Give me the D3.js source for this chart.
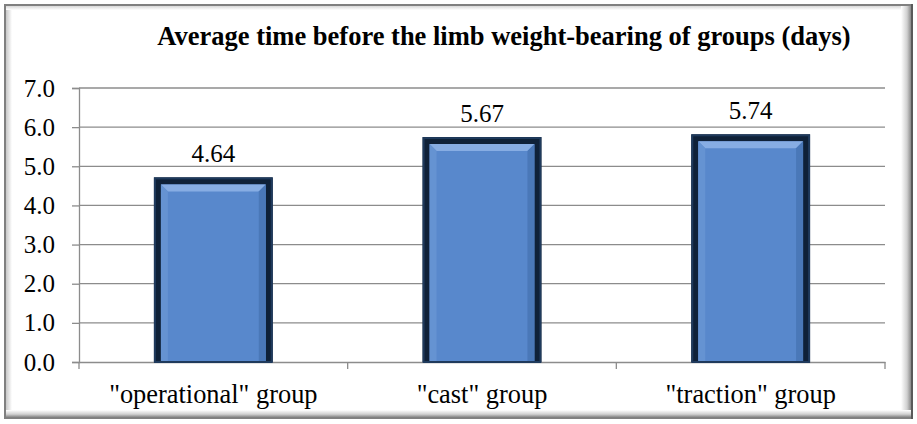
<!DOCTYPE html>
<html><head><meta charset="utf-8">
<script src="https://cdn.jsdelivr.net/npm/d3@7"></script>
<style>body{margin:0;background:#fff}svg{display:block}
text{font-family:"Liberation Serif","Times New Roman",Times,"DejaVu Serif",serif}</style>
</head><body>
<script>
const categories = ['"operational" group', '"cast" group', '"traction" group'];
const values = [4.64, 5.67, 5.74];
const yTicks = [0, 1, 2, 3, 4, 5, 6, 7];
const title = "Average time before the limb weight-bearing of groups (days)";

(function () {
const W = 917, H = 424;
const svg = d3.select("body").append("svg").attr("width", W).attr("height", H);
const defs = svg.append("defs");

function lg(id, x2, y2, stops) {
  const g = defs.append("linearGradient").attr("id", id).attr("x1", 0).attr("y1", 0).attr("x2", x2).attr("y2", y2);
  stops.forEach(s => g.append("stop").attr("offset", s[0]).attr("stop-color", s[1]));
}
lg("shR", 1, 0, [[0, "#ffffff"], [0.6, "#d0d0d0"], [1, "#8a8a8a"]]);
lg("shB", 0, 1, [[0, "#ffffff"], [0.6, "#d0d0d0"], [1, "#8a8a8a"]]);
lg("shL", 1, 0, [[0, "#c8c8c8"], [1, "#ffffff"]]);
lg("shT", 0, 1, [[0, "#d8d8d8"], [1, "#ffffff"]]);

// frame
const fx = 4, fy = 4, fw = 909, fh = 415;
svg.append("rect").attr("x", fx).attr("y", fy).attr("width", fw).attr("height", fh).attr("fill", "#fff");
svg.append("rect").attr("x", fx + 2).attr("y", fy + 2).attr("width", 6).attr("height", fh - 4).attr("fill", "url(#shL)");
svg.append("rect").attr("x", fx + 2).attr("y", fy + 2).attr("width", fw - 4).attr("height", 4).attr("fill", "url(#shT)");
svg.append("rect").attr("x", fx + fw - 12).attr("y", fy + 2).attr("width", 10).attr("height", fh - 4).attr("fill", "url(#shR)");
svg.append("rect").attr("x", fx + 2).attr("y", fy + fh - 9).attr("width", fw - 4).attr("height", 7).attr("fill", "url(#shB)");
svg.append("rect").attr("x", fx + 1).attr("y", fy + 1).attr("width", fw - 2).attr("height", fh - 2)
  .attr("fill", "none").attr("stroke", "#808080").attr("stroke-width", 2);
svg.append("line").attr("x1", fx + fw - 1).attr("x2", fx + fw - 1).attr("y1", fy).attr("y2", fy + fh).attr("stroke", "#5a5a5a").attr("stroke-width", 2);

// title
svg.append("text").attr("x", 504).attr("y", 45).attr("text-anchor", "middle")
  .attr("font-weight", "bold").attr("font-size", 26.5).attr("fill", "#000").text(title);

const pL = 79, pR = 885, pT = 88, pB = 362;
const x = d3.scaleBand().domain(categories).range([pL, pR]).paddingInner(0.58).paddingOuter(0.29);
const y = d3.scaleLinear().domain([0, 7]).range([pB, pT]);

// gridlines
svg.append("g").selectAll("line").data(yTicks.filter(d => d > 0)).join("line")
  .attr("x1", pL).attr("x2", pR).attr("y1", d => y(d)).attr("y2", d => y(d))
  .attr("stroke", "#8c8c8c").attr("stroke-width", 1.3);

// y axis
const yAxis = svg.append("g").attr("transform", `translate(${pL},0)`)
  .call(d3.axisLeft(y).tickValues(yTicks).tickFormat(d3.format(".1f")).tickSize(7).tickPadding(17));
yAxis.attr("font-family", null);
yAxis.select(".domain").attr("stroke", "#8c8c8c").attr("stroke-width", 1.3);
yAxis.selectAll(".tick line").attr("stroke", "#8c8c8c").attr("stroke-width", 1.3);
yAxis.selectAll(".tick text").attr("font-size", 25).attr("fill", "#000");

// x axis
const xBand = d3.scaleBand().domain(categories).range([pL, pR]);
const xAxis = svg.append("g").attr("transform", `translate(0,${pB})`)
  .call(d3.axisBottom(xBand).tickSize(0));
xAxis.attr("font-family", null);
xAxis.select(".domain").attr("stroke", "#8c8c8c").attr("stroke-width", 1.3);
xAxis.selectAll(".tick text").attr("font-size", 26.4).attr("fill", "#000").attr("y", 41).attr("dy", 0);
svg.append("g").selectAll("line").data(categories.map(c => xBand(c)).concat([pR])).join("line")
  .attr("x1", d => d).attr("x2", d => d).attr("y1", pB).attr("y2", pB + 7)
  .attr("stroke", "#8c8c8c").attr("stroke-width", 1.3);

// bars
const bw = x.bandwidth();
const bars = svg.append("g").selectAll("g").data(values).join("g")
  .attr("transform", (d, i) => `translate(${x(categories[i])},${y(d)})`);
const ob = 3, inset = 7, bev = 7;
bars.append("rect").attr("x", -ob).attr("y", -ob).attr("width", bw + 2 * ob).attr("height", d => pB - y(d) + ob)
  .attr("fill", "#0f2138");
bars.append("rect").attr("x", -ob + 1).attr("y", -ob + 1).attr("width", bw + 2 * ob - 2).attr("height", d => pB - y(d) + ob - 1)
  .attr("fill", "none").attr("stroke", "#1f3a5c").attr("stroke-width", 2);
bars.each(function (d) {
  const h = pB - y(d);
  const s = d3.select(this);
  const x0 = -ob + inset, x1 = bw + ob - inset, y0 = -ob + inset, y1 = h - 1;
  s.append("rect").attr("x", x0).attr("y", y0).attr("width", x1 - x0).attr("height", y1 - y0).attr("fill", "#5888cc");
  s.append("polygon").attr("points", `${x0},${y0} ${x1},${y0} ${x1 - bev},${y0 + bev} ${x0 + bev},${y0 + bev}`).attr("fill", "#87ade3");
  s.append("polygon").attr("points", `${x0},${y0} ${x0 + bev},${y0 + bev} ${x0 + bev},${y1} ${x0},${y1}`).attr("fill", "#6593d2");
  s.append("polygon").attr("points", `${x1},${y0} ${x1 - bev},${y0 + bev} ${x1 - bev},${y1} ${x1},${y1}`).attr("fill", "#4a78b8");
});

// value labels
svg.append("g").selectAll("text").data(values).join("text")
  .attr("x", (d, i) => x(categories[i]) + bw / 2).attr("y", d => y(d) - 18)
  .attr("text-anchor", "middle").attr("font-size", 25).attr("fill", "#000").text(d => d.toFixed(2));
})();
</script>
</body></html>
